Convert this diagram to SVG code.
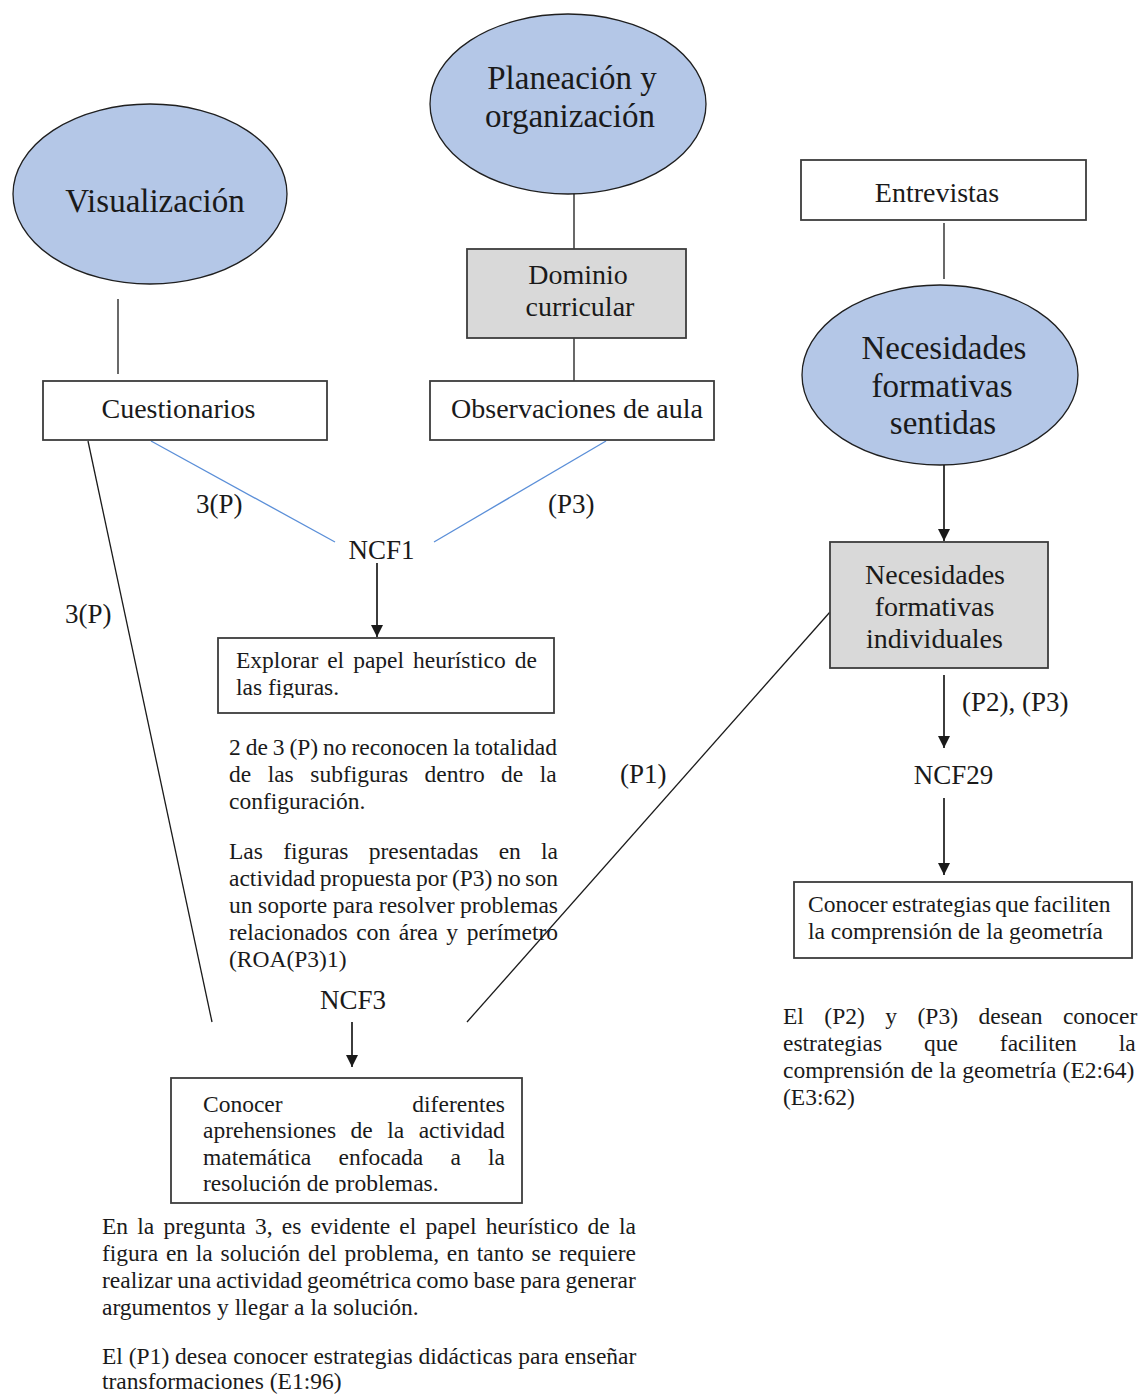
<svg xmlns="http://www.w3.org/2000/svg" width="1141" height="1395" viewBox="0 0 1141 1395">
  <style>
    text { font-family: "Liberation Serif", "Times New Roman", serif; fill: #1a1a1a; }
    .ell { fill: #b4c7e7; stroke: #1f1f1f; stroke-width: 1.3; }
    .box { fill: #ffffff; stroke: #3c3c3c; stroke-width: 1.8; }
    .gbox { fill: #d9d9d9; stroke: #3c3c3c; stroke-width: 1.8; }
    .t33 { font-size: 33px; text-anchor: middle; }
    .t28 { font-size: 28px; text-anchor: middle; }
    .lbl { font-size: 27px; }
    .body { font-size: 23.5px; }
    .ln { stroke: #1a1a1a; stroke-width: 1.3; fill: none; }
    .blue { stroke: #5b8fd8; stroke-width: 1.3; fill: none; }
    .arr { stroke: #1a1a1a; stroke-width: 1.7; fill: none; marker-end: url(#head); }
  </style>
  <defs>
    <marker id="head" viewBox="0 0 12 12" markerWidth="12" markerHeight="12" refX="12" refY="6" orient="auto" markerUnits="userSpaceOnUse">
      <path d="M0,0 L12,6 L0,12 z" fill="#1a1a1a"/>
    </marker>
    <clipPath id="clipExplorar"><rect x="219" y="639" width="334" height="59"/></clipPath>
    <clipPath id="clipConocer"><rect x="172" y="1079" width="349" height="114"/></clipPath>
  </defs>

  <!-- connectors -->
  <g id="connectors">
    <line class="ln" x1="118" y1="299" x2="118" y2="374"/>
    <line class="ln" x1="574" y1="193" x2="574" y2="249"/>
    <line class="ln" x1="574" y1="338" x2="574" y2="386"/>
    <line class="ln" x1="944" y1="223" x2="944" y2="279"/>
    <line class="blue" x1="151" y1="441" x2="335" y2="542"/>
    <line class="blue" x1="606" y1="441" x2="434" y2="542"/>
    <line class="ln" x1="88" y1="441" x2="212" y2="1022"/>
    <line class="ln" x1="830" y1="612" x2="467" y2="1022"/>
    <line class="arr" x1="377" y1="563" x2="377" y2="637"/>
    <line class="arr" x1="944" y1="465" x2="944" y2="541"/>
    <line class="arr" x1="944" y1="675" x2="944" y2="748"/>
    <line class="arr" x1="944" y1="798" x2="944" y2="875"/>
    <line class="arr" x1="352" y1="1022" x2="352" y2="1067"/>
    <text class="lbl" x="196" y="513">3(P)</text>
    <text class="lbl" x="548" y="513">(P3)</text>
    <text class="lbl" x="65" y="623">3(P)</text>
    <text class="lbl" x="620" y="783">(P1)</text>
    <text class="lbl" x="962" y="711">(P2), (P3)</text>
  </g>

  <!-- sources and categories -->
  <g id="visualizacion">
    <ellipse class="ell" cx="150" cy="194" rx="137" ry="90"/>
    <text class="t33" x="155" y="212">Visualización</text>
  </g>
  <g id="planeacion">
    <ellipse class="ell" cx="568" cy="104" rx="138" ry="90"/>
    <text class="t33" x="572" y="89">Planeación y</text>
    <text class="t33" x="570" y="127">organización</text>
  </g>
  <g id="dominio">
    <rect class="gbox" x="467" y="249" width="219" height="89"/>
    <text class="t28" x="578" y="284">Dominio</text>
    <text class="t28" x="580" y="316">curricular</text>
  </g>
  <g id="cuestionarios">
    <rect class="box" x="43" y="381" width="284" height="59"/>
    <text class="t28" x="178.5" y="418">Cuestionarios</text>
  </g>
  <g id="observaciones">
    <rect class="box" x="430" y="381" width="284" height="59"/>
    <text class="t28" x="577" y="418">Observaciones de aula</text>
  </g>
  <g id="entrevistas">
    <rect class="box" x="801" y="160" width="285" height="60"/>
    <text class="t28" x="937" y="202">Entrevistas</text>
  </g>
  <g id="sentidas">
    <ellipse class="ell" cx="940" cy="375" rx="138" ry="90"/>
    <text class="t33" x="944" y="359">Necesidades</text>
    <text class="t33" x="942" y="397">formativas</text>
    <text class="t33" x="943" y="434">sentidas</text>
  </g>
  <g id="individuales">
    <rect class="gbox" x="830" y="542" width="218" height="126"/>
    <text class="t28" x="935" y="584">Necesidades</text>
    <text class="t28" x="934.5" y="616">formativas</text>
    <text class="t28" x="934.5" y="648">individuales</text>
  </g>

  <!-- need codes -->
  <g id="ncf1">
    <text class="lbl" x="381.5" y="559" text-anchor="middle">NCF1</text>
  </g>
  <g id="ncf3">
    <text class="lbl" x="353" y="1009" text-anchor="middle">NCF3</text>
  </g>
  <g id="ncf29">
    <text class="lbl" x="953.5" y="784" text-anchor="middle">NCF29</text>
  </g>

  <!-- need statements -->
  <g id="explorar">
    <rect class="box" x="218" y="638" width="336" height="75"/>
    <g clip-path="url(#clipExplorar)">
      <text class="body" x="236" y="668" word-spacing="3.1">Explorar el papel heurístico de</text>
      <text class="body" x="236" y="695">las figuras.</text>
    </g>
  </g>
  <g id="conocer-aprehensiones">
    <rect class="box" x="171" y="1078" width="351" height="125"/>
    <g clip-path="url(#clipConocer)">
      <text class="body" x="203" y="1112">Conocer</text>
      <text class="body" x="505" y="1112" text-anchor="end">diferentes</text>
      <text class="body" x="203" y="1138" word-spacing="8.6">aprehensiones de la actividad</text>
      <text class="body" x="203" y="1165" word-spacing="21.3">matemática enfocada a la</text>
      <text class="body" x="203" y="1191">resolución de problemas.</text>
    </g>
  </g>
  <g id="conocer-estrategias">
    <rect class="box" x="794" y="882" width="338" height="76"/>
    <text class="body" x="808" y="912" word-spacing="-1.6">Conocer estrategias que faciliten</text>
    <text class="body" x="808" y="939">la comprensión de la geometría</text>
  </g>

  <!-- evidence notes -->
  <g id="nota-subfiguras">
    <text class="body" x="229" y="755" word-spacing="-0.97">2 de 3 (P) no reconocen la totalidad</text>
    <text class="body" x="229" y="782" word-spacing="10.6">de las subfiguras dentro de la</text>
    <text class="body" x="229" y="809">configuración.</text>
  </g>
  <g id="nota-figuras">
    <text class="body" x="229" y="859" word-spacing="14.4">Las figuras presentadas en la</text>
    <text class="body" x="229" y="886" word-spacing="-1.16">actividad propuesta por (P3) no son</text>
    <text class="body" x="229" y="913" word-spacing="-0.3">un soporte para resolver problemas</text>
    <text class="body" x="229" y="940" word-spacing="2.65">relacionados con área y perímetro</text>
    <text class="body" x="229" y="967">(ROA(P3)1)</text>
  </g>
  <g id="nota-pregunta">
    <text class="body" x="102" y="1234" word-spacing="3.34">En la pregunta 3, es evidente el papel heurístico de la</text>
    <text class="body" x="102" y="1261" word-spacing="1.9">figura en la solución del problema, en tanto se requiere</text>
    <text class="body" x="102" y="1288" word-spacing="-1.0">realizar una actividad geométrica como base para generar</text>
    <text class="body" x="102" y="1315">argumentos y llegar a la solución.</text>
    <text class="body" x="102" y="1364" word-spacing="0">El (P1) desea conocer estrategias didácticas para enseñar</text>
    <text class="body" x="102" y="1389">transformaciones (E1:96)</text>
  </g>
  <g id="nota-entrevistas">
    <text class="body" x="783" y="1024" word-spacing="14.6">El (P2) y (P3) desean conocer</text>
    <text class="body" x="783" y="1051" word-spacing="36">estrategias que faciliten la</text>
    <text class="body" x="783" y="1078" word-spacing="0.4">comprensión de la geometría (E2:64)</text>
    <text class="body" x="783" y="1105">(E3:62)</text>
  </g>
</svg>
